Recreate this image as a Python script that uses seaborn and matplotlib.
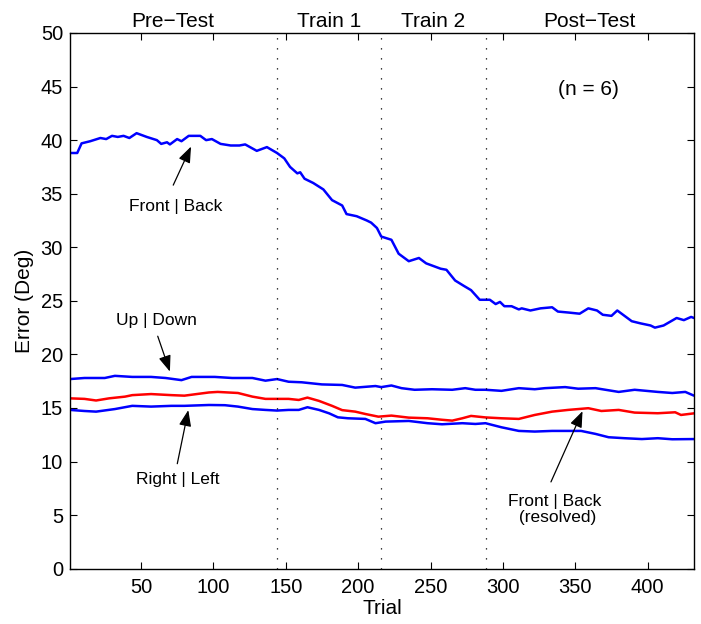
import matplotlib
matplotlib.use("Agg")
import matplotlib.pyplot as plt
import matplotlib.transforms as mtransforms
import seaborn as sns
import pandas as pd

# ---------------- data ----------------
fb_trials = [1, 6, 9, 15, 22, 26, 30, 34, 38, 42, 47, 54, 61, 64, 68, 70, 75, 78, 83, 91,
             95, 99, 105, 112, 118, 122, 130, 137, 144, 149, 153, 158, 160, 163, 169, 176, 182, 189, 192, 199,
             206, 209, 213, 216, 223, 228, 235, 242, 247, 257, 261, 267, 273, 278, 284, 291, 295, 298, 301, 306,
             311, 313, 319, 326, 334, 338, 346, 353, 359, 365, 369, 375, 379, 383, 389, 395, 402, 405, 411, 420,
             425, 430, 432]
fb_error = [38.8, 38.8, 39.7, 39.9, 40.2, 40.1, 40.4, 40.3, 40.4, 40.2, 40.65, 40.3, 40.0, 39.65, 39.8, 39.6, 40.1, 39.9, 40.4, 40.4,
            40.0, 40.1, 39.65, 39.5, 39.5, 39.6, 39.0, 39.35, 38.8, 38.3, 37.5, 36.9, 37.0, 36.4, 36.0, 35.4, 34.4, 33.9, 33.1, 32.9,
            32.5, 32.3, 31.8, 31.0, 30.7, 29.4, 28.7, 29.0, 28.5, 28.0, 27.9, 26.9, 26.4, 26.0, 25.1, 25.1, 24.7, 24.9, 24.5, 24.5,
            24.2, 24.3, 24.1, 24.3, 24.4, 24.0, 23.9, 23.8, 24.3, 24.1, 23.7, 23.6, 24.1, 23.7, 23.1, 22.9, 22.7, 22.5, 22.7, 23.4,
            23.2, 23.5, 23.4]

ud_trials = [1, 11, 25, 32, 44, 57, 67, 78, 85, 101, 113, 127, 136, 144, 152, 161, 175, 189, 198, 212,
             216, 223, 230, 239, 251, 265, 274, 281, 288, 299, 311, 322, 329, 343, 352, 364, 380, 391, 407, 417,
             426, 432]
ud_error = [17.7, 17.8, 17.8, 18.0, 17.9, 17.9, 17.8, 17.6, 17.9, 17.9, 17.8, 17.8, 17.55, 17.7, 17.45, 17.4, 17.2, 17.15, 16.9, 17.05,
            16.95, 17.1, 16.85, 16.7, 16.75, 16.7, 16.85, 16.7, 16.7, 16.6, 16.85, 16.75, 16.85, 16.95, 16.8, 16.85, 16.5, 16.7, 16.5, 16.4,
            16.5, 16.15]

fbr_trials = [1, 11, 19, 28, 39, 44, 57, 71, 80, 97, 103, 117, 127, 136, 144, 152, 159, 165, 173, 182,
              189, 198, 205, 214, 223, 235, 248, 258, 265, 272, 278, 288, 299, 311, 322, 334, 345, 359, 368, 380,
              391, 407, 419, 423, 432]
fbr_error = [15.9, 15.85, 15.7, 15.9, 16.06, 16.2, 16.3, 16.2, 16.15, 16.45, 16.5, 16.4, 16.06, 15.85, 15.85, 15.85, 15.75, 15.97, 15.66, 15.2,
             14.8, 14.66, 14.44, 14.19, 14.29, 14.1, 14.04, 13.9, 13.82, 14.04, 14.26, 14.12, 14.04, 13.98, 14.35, 14.66, 14.82, 14.98, 14.72, 14.82,
             14.57, 14.51, 14.6, 14.35, 14.5]

rl_trials = [1, 11, 19, 32, 44, 57, 71, 80, 97, 108, 117, 127, 136, 144, 152, 159, 165, 173, 180, 186,
             193, 205, 212, 219, 235, 248, 258, 272, 281, 288, 299, 311, 322, 334, 345, 354, 364, 373, 384, 396,
             407, 417, 432]
rl_error = [14.82, 14.72, 14.66, 14.9, 15.2, 15.13, 15.2, 15.2, 15.28, 15.26, 15.13, 14.9, 14.82, 14.76, 14.82, 14.82, 15.07, 14.82, 14.5, 14.13,
            14.04, 13.98, 13.58, 13.73, 13.79, 13.58, 13.48, 13.58, 13.51, 13.58, 13.2, 12.86, 12.8, 12.86, 12.86, 12.86, 12.58, 12.27, 12.18, 12.1,
            12.18, 12.08, 12.1]

phase_bounds = [144, 216, 288]
phase_labels = ["Pre\u2212Test", "Train 1", "Train 2", "Post\u2212Test"]
phase_centers = [72, 180, 252, 360]

x_ticks = [50, 100, 150, 200, 250, 300, 350, 400]
y_ticks = [0, 5, 10, 15, 20, 25, 30, 35, 40, 45, 50]

# ---------------- style ----------------
sns.set_style("ticks")
plt.rcParams["font.family"] = ["Liberation Sans", "DejaVu Sans"]
plt.rcParams["text.color"] = "black"
plt.rcParams["axes.labelcolor"] = "black"
plt.rcParams["xtick.color"] = "black"
plt.rcParams["ytick.color"] = "black"
plt.rcParams["axes.edgecolor"] = "black"

fig = plt.figure(figsize=(7.01, 6.24), dpi=100)
ax = fig.add_axes([70 / 701, 1 - 568.7 / 624, (694 - 70) / 701, (568.7 - 33) / 624])

series = [
    (fb_trials, fb_error, "#0000ff"),
    (ud_trials, ud_error, "#0000ff"),
    (fbr_trials, fbr_error, "#ff0000"),
    (rl_trials, rl_error, "#0000ff"),
]
for xs, ys, col in series:
    df = pd.DataFrame({"Trial": xs, "Error": ys})
    sns.lineplot(data=df, x="Trial", y="Error", color=col, linewidth=1.8, ax=ax,
                 estimator=None, sort=False)

for b in phase_bounds:
    ax.axvline(b, color="black", linewidth=0.9, linestyle=(0, (1, 7)))

ax.set_xlim(1, 432)
ax.set_ylim(0, 50)
ax.set_xticks(x_ticks)
ax.set_yticks(y_ticks)
ax.tick_params(direction="in", length=5, width=0.8, top=True, right=True,
               labelsize=14.5, colors="black")
ax.tick_params(axis="x", pad=7)
ax.tick_params(axis="y", pad=5)
for s in ax.spines.values():
    s.set_visible(True)
    s.set_linewidth(1.0)
    s.set_color("black")

ax.set_xlabel("Trial", fontsize=15, labelpad=1, color="black")
ax.set_ylabel("Error (Deg)", fontsize=15, labelpad=5, color="black")

trans = mtransforms.blended_transform_factory(ax.transData, ax.transAxes)
for c, lab in zip(phase_centers, phase_labels):
    ax.text(c, 1.012, lab, transform=trans, ha="center", va="baseline", fontsize=15,
            color="black")

ax.text(359, 44.7, "(n = 6)", ha="center", va="center", fontsize=15, color="black")

arrow = dict(arrowstyle="-|>,head_length=0.65,head_width=0.25", color="black",
             lw=0.9, mutation_scale=15, shrinkA=0, shrinkB=0)

ax.annotate("", xy=(84.6, 39.4), xytext=(72.3, 35.8), arrowprops=arrow)
ax.text(74, 33.8, "Front | Back", ha="center", va="center", fontsize=12.5, color="black")

ax.annotate("", xy=(70, 18.4), xytext=(61.6, 21.7), arrowprops=arrow)
ax.text(61, 23.15, "Up | Down", ha="center", va="center", fontsize=12.5, color="black")

ax.annotate("", xy=(82.7, 14.8), xytext=(75.1, 9.8), arrowprops=arrow)
ax.text(75.6, 8.3, "Right | Left", ha="center", va="center", fontsize=12.5, color="black")

ax.annotate("", xy=(355, 14.7), xytext=(333.2, 8.1), arrowprops=arrow)
ax.text(336, 5.5, "Front | Back\n (resolved)", ha="center", va="center", fontsize=12.5,
        linespacing=1.1, color="black")

fig.savefig("out.png", dpi=100)
